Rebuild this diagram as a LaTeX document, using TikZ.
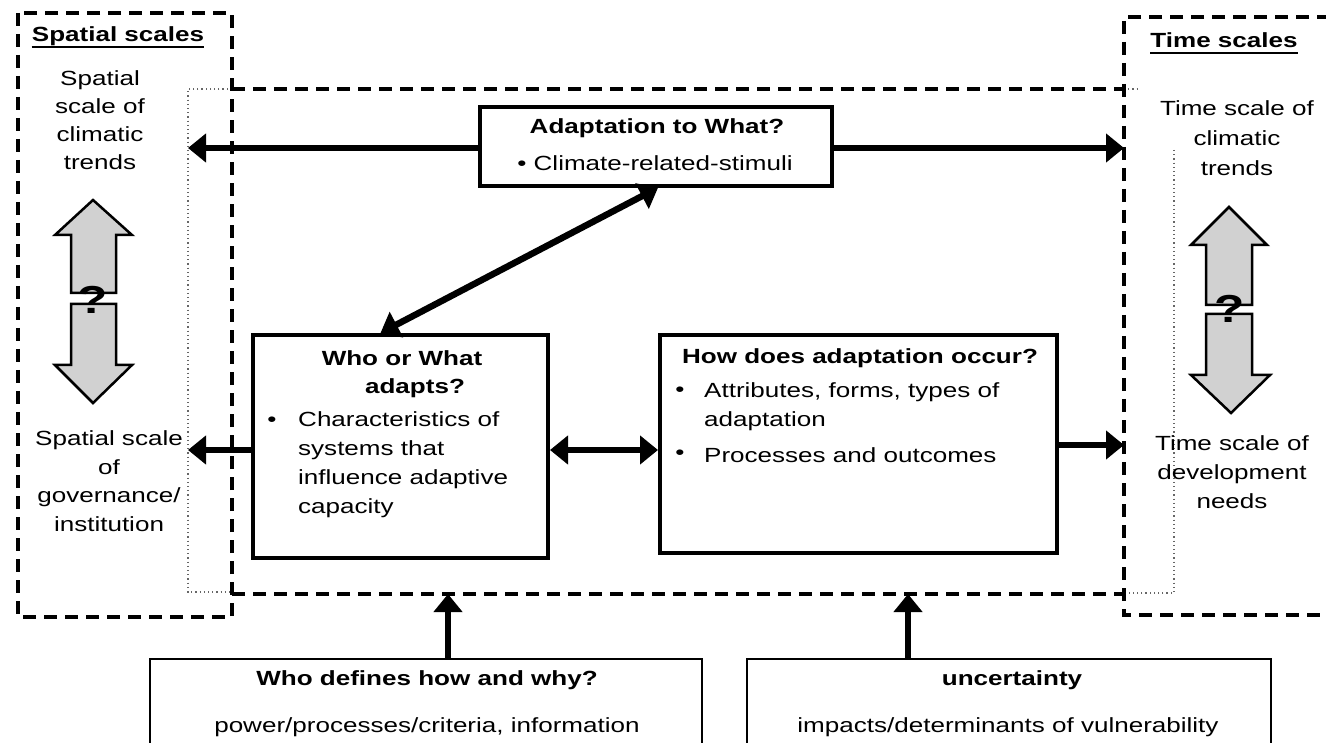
\documentclass[tikz,border=0pt]{standalone}
\usepackage{fontspec}
\setmainfont{Liberation Sans}[FakeStretch=1.27]
\usetikzlibrary{arrows.meta}
\tikzset{
  dashedline/.style={line width=3.5pt, dash pattern=on 13pt off 8pt},
  dottedline/.style={line width=1.2pt, black!60, dash pattern=on 1.2pt off 3pt},
  box/.style={draw, line width=4pt, fill=white, inner sep=0pt},
  topbox/.style={draw, line width=3.5pt, fill=white, inner sep=0pt},
  thinbox/.style={draw, line width=2.5pt, fill=white, inner sep=0pt},
  arr/.style={line width=6.5pt, -{Triangle[length=18pt,width=28pt]}},
  darr/.style={line width=6.5pt, {Triangle[length=18pt,width=28pt]}-{Triangle[length=18pt,width=28pt]}},
  txt/.style={inner sep=0pt, font=\fontsize{20.5}{29}\selectfont},
  bold/.style={inner sep=0pt, font=\fontsize{20.5}{29}\selectfont\bfseries},
  blockarrow/.style={draw, line width=2.5pt, fill=black!18, line join=miter},
  qmark/.style={inner sep=0pt, font=\fontsize{39}{40}\selectfont\bfseries},
  ul/.style={line width=2pt}
}
\begin{document}
\begin{tikzpicture}[x=1pt,y=-1pt]
\useasboundingbox (0,0) rectangle (1326,743);

% dotted frame (partly hidden)
\draw[dottedline] (232,89) -- (188,89) -- (188,592) -- (232,592);
\draw[dottedline] (1124,89) -- (1140,89);
\draw[dottedline] (1174,150) -- (1174,593) -- (1124,593);

% dashed frames
\draw[dashedline] (18,13) rectangle (232,617);
\draw[dashedline] (1330,17) -- (1124,17) -- (1124,615) -- (1330,615);
\draw[dashedline] (232,89) -- (1124,89);
\draw[dashedline] (232,594) -- (1124,594);

% scale headings
\node[bold, anchor=base] (sps) at (118,42) {Spatial scales};
\draw[ul] ([yshift=-5pt]sps.base west) -- ([yshift=-5pt]sps.base east);
\node[bold, anchor=base] (tms) at (1224,48) {Time scales};
\draw[ul] ([yshift=-5pt]tms.base west) -- ([yshift=-5pt]tms.base east);

% scale texts
\node[txt, align=center, font=\fontsize{20.5}{28}\selectfont] (sp1) at (100,120) {Spatial\\scale of\\climatic\\trends};
\node[txt, align=center, font=\fontsize{20.5}{28.5}\selectfont] (sp2) at (109,481) {Spatial scale\\of\\governance/\\institution};
\node[txt, align=center, font=\fontsize{20.5}{30}\selectfont] (tm1) at (1237,138) {Time scale of\\climatic\\trends};
\node[txt, align=center, font=\fontsize{20.5}{29}\selectfont] (tm2) at (1232,472) {Time scale of\\development\\needs};

% block arrows
\draw[blockarrow] (93,200) -- (132,235) -- (116,235) -- (116,293) -- (71,293) -- (71,235) -- (55,235) -- cycle;
\draw[blockarrow] (71,304) -- (116,304) -- (116,365) -- (132,365) -- (93,403) -- (55,365) -- (71,365) -- cycle;
\draw[blockarrow] (1229,207) -- (1267,245) -- (1252,245) -- (1252,305) -- (1206,305) -- (1206,245) -- (1191,245) -- cycle;
\draw[blockarrow] (1206,314) -- (1252,314) -- (1252,375) -- (1270,375) -- (1231,413) -- (1191,375) -- (1206,375) -- cycle;
\node[qmark] (q1) at (93,300) {?};
\node[qmark] (q2) at (1230,309) {?};

% top box
\node[topbox, minimum width=352pt, minimum height=79pt] (what) at (656,146.5) {};
\node[bold] (whatT) at (657,128) {Adaptation to What?};
\node[txt] (whatB) at (655,163) {\textbullet\ Climate-related-stimuli};

% who box
\node[box, minimum width=295pt, minimum height=223pt] (who) at (400.5,446.5) {};
\node[bold] (whoT1) at (402,358) {Who or What};
\node[bold] (whoT2) at (415,388) {adapts?};
\node[txt] (whoB) at (272,422) {\textbullet};
\node[txt, align=left, anchor=west] (whoI) at (298,465) {Characteristics of\\systems that\\influence adaptive\\capacity};

% how box
\node[box, minimum width=397pt, minimum height=218pt] (how) at (858.5,444) {};
\node[bold] (howT) at (860,358) {How does adaptation occur?};
\node[txt] (howB1) at (680,392) {\textbullet};
\node[txt, align=left, anchor=west] (howI1) at (704,407) {Attributes, forms, types of\\adaptation};
\node[txt] (howB2) at (680,455) {\textbullet};
\node[txt, anchor=west] (howI2) at (704,455) {Processes and outcomes};

% bottom boxes
\node[thinbox, minimum width=552pt, minimum height=120pt] (whodef) at (426,719) {};
\node[bold] (whodefT) at (427,680) {Who defines how and why?};
\node[txt] (whodefB) at (427,727) {power/processes/criteria, information};
\node[thinbox, minimum width=524pt, minimum height=120pt] (unc) at (1009,719) {};
\node[bold] (uncT) at (1012,680) {uncertainty};
\node[txt] (uncB) at (1008,727) {impacts/determinants of vulnerability};

% connectors
\coordinate (lt) at (188,148);
\coordinate (rt) at (1124,148);
\coordinate (lm) at (188,450);
\coordinate (ym) at (0,450);
\coordinate (rm) at (1124,445);
\coordinate (bl) at (448,594);
\coordinate (br) at (908,594);
\draw[arr] (what.west |- lt) -- (lt);
\draw[arr] (what.east |- rt) -- (rt);
\draw[darr] ([xshift=-20pt]who.north) -- ([xshift=2pt]what.south);
\draw[arr] (who.west |- lm) -- (lm);
\draw[darr] (who.east |- ym) -- (how.west |- ym);
\draw[arr] (how.east |- rm) -- (rm);
\draw[arr] (bl |- whodef.north) -- (bl);
\draw[arr] (br |- unc.north) -- (br);
\end{tikzpicture}
\end{document}
